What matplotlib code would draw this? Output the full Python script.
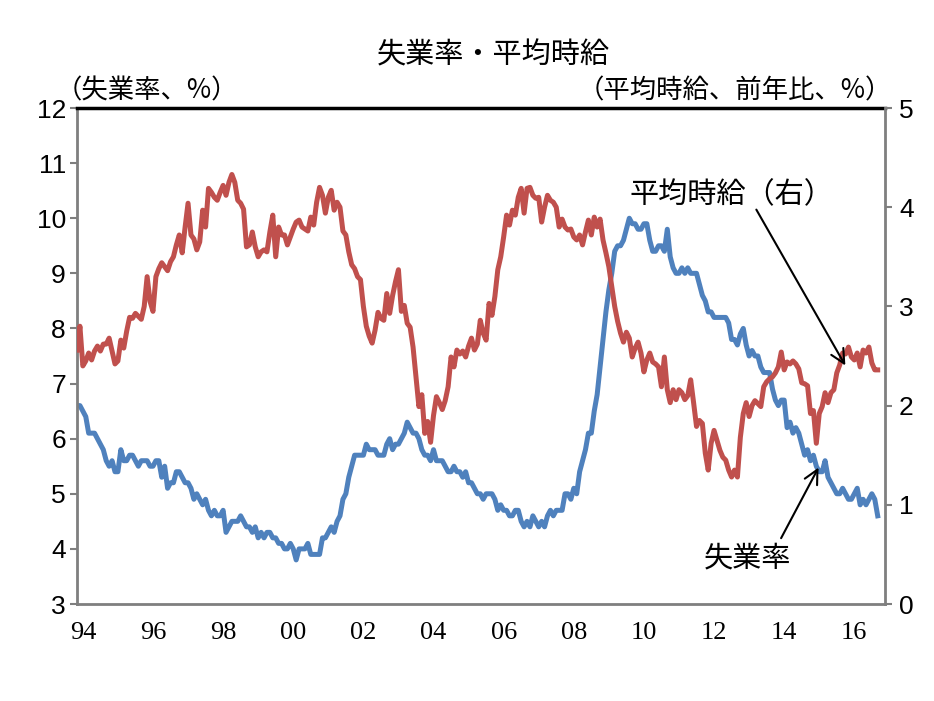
import numpy as np
import matplotlib
matplotlib.use('Agg')
import matplotlib.pyplot as plt

plt.rcParams['font.family'] = ['Noto Sans CJK JP', 'DejaVu Sans']

# monthly data, Jan 1994 - Nov 2016
unemp = [
    6.6, 6.6, 6.5, 6.4, 6.1, 6.1, 6.1, 6.0, 5.9, 5.8, 5.6, 5.5,
    5.6, 5.4, 5.4, 5.8, 5.6, 5.6, 5.7, 5.7, 5.6, 5.5, 5.6, 5.6,
    5.6, 5.5, 5.5, 5.6, 5.6, 5.3, 5.5, 5.1, 5.2, 5.2, 5.4, 5.4,
    5.3, 5.2, 5.2, 5.1, 4.9, 5.0, 4.9, 4.8, 4.9, 4.7, 4.6, 4.7,
    4.6, 4.6, 4.7, 4.3, 4.4, 4.5, 4.5, 4.5, 4.6, 4.5, 4.4, 4.4,
    4.3, 4.4, 4.2, 4.3, 4.2, 4.3, 4.3, 4.2, 4.2, 4.1, 4.1, 4.0,
    4.0, 4.1, 4.0, 3.8, 4.0, 4.0, 4.0, 4.1, 3.9, 3.9, 3.9, 3.9,
    4.2, 4.2, 4.3, 4.4, 4.3, 4.5, 4.6, 4.9, 5.0, 5.3, 5.5, 5.7,
    5.7, 5.7, 5.7, 5.9, 5.8, 5.8, 5.8, 5.7, 5.7, 5.7, 5.9, 6.0,
    5.8, 5.9, 5.9, 6.0, 6.1, 6.3, 6.2, 6.1, 6.1, 6.0, 5.8, 5.7,
    5.7, 5.6, 5.8, 5.6, 5.6, 5.6, 5.5, 5.4, 5.4, 5.5, 5.4, 5.4,
    5.3, 5.4, 5.2, 5.2, 5.1, 5.0, 5.0, 4.9, 5.0, 5.0, 5.0, 4.9,
    4.7, 4.8, 4.7, 4.7, 4.6, 4.6, 4.7, 4.7, 4.5, 4.4, 4.5, 4.4,
    4.6, 4.5, 4.4, 4.5, 4.4, 4.6, 4.7, 4.6, 4.7, 4.7, 4.7, 5.0,
    5.0, 4.9, 5.1, 5.0, 5.4, 5.6, 5.8, 6.1, 6.1, 6.5, 6.8, 7.3,
    7.8, 8.3, 8.7, 9.0, 9.4, 9.5, 9.5, 9.6, 9.8, 10.0, 9.9, 9.9,
    9.8, 9.8, 9.9, 9.9, 9.6, 9.4, 9.4, 9.5, 9.5, 9.4, 9.8, 9.3,
    9.1, 9.0, 9.0, 9.1, 9.0, 9.1, 9.0, 9.0, 9.0, 8.8, 8.6, 8.5,
    8.3, 8.3, 8.2, 8.2, 8.2, 8.2, 8.2, 8.1, 7.8, 7.8, 7.7, 7.9,
    8.0, 7.7, 7.5, 7.6, 7.5, 7.5, 7.3, 7.2, 7.2, 7.2, 6.9, 6.7,
    6.6, 6.7, 6.7, 6.2, 6.3, 6.1, 6.2, 6.1, 5.9, 5.7, 5.8, 5.6,
    5.7, 5.5, 5.4, 5.4, 5.6, 5.3, 5.2, 5.1, 5.0, 5.0, 5.1, 5.0,
    4.9, 4.9, 5.0, 5.1, 4.8, 4.9, 4.8, 4.9, 5.0, 4.9, 4.6,
]

wage = [
    2.56, 2.80, 2.40, 2.45, 2.53, 2.46, 2.55, 2.60, 2.55, 2.62, 2.62, 2.68,
    2.55, 2.42, 2.45, 2.66, 2.58, 2.75, 2.89, 2.88, 2.93, 2.90, 2.87, 3.00,
    3.30, 3.05, 2.95, 3.30, 3.38, 3.44, 3.40, 3.36, 3.45, 3.50, 3.62, 3.72,
    3.54, 3.80, 4.04, 3.72, 3.68, 3.57, 3.65, 3.97, 3.80, 4.19, 4.15, 4.10,
    4.07, 4.15, 4.22, 4.12, 4.25, 4.33, 4.25, 4.07, 4.04, 3.98, 3.60, 3.62,
    3.75, 3.60, 3.50, 3.55, 3.57, 3.55, 3.75, 3.92, 3.50, 3.80, 3.72, 3.72,
    3.62, 3.70, 3.78, 3.85, 3.87, 3.80, 3.78, 3.76, 3.90, 3.82, 4.05, 4.20,
    4.12, 3.94, 4.10, 4.17, 3.97, 4.05, 4.00, 3.76, 3.72, 3.55, 3.42, 3.38,
    3.30, 3.27, 3.00, 2.80, 2.70, 2.63, 2.76, 2.94, 2.88, 2.86, 3.13, 2.93,
    3.11, 3.25, 3.37, 2.95, 3.01, 2.83, 2.79, 2.59, 2.29, 1.99, 2.11, 1.72,
    1.84, 1.63, 1.90, 2.09, 2.03, 1.96, 2.05, 2.19, 2.49, 2.39, 2.56, 2.52,
    2.55, 2.49, 2.60, 2.68, 2.56, 2.62, 2.86, 2.73, 2.66, 3.03, 2.91, 3.10,
    3.37, 3.50, 3.70, 3.92, 3.82, 3.97, 3.92, 4.10, 4.19, 3.94, 4.19, 4.20,
    4.12, 4.09, 4.10, 3.85, 4.00, 4.12, 4.07, 4.05, 4.00, 3.80, 3.88, 3.80,
    3.77, 3.78, 3.70, 3.67, 3.72, 3.62, 3.75, 3.87, 3.72, 3.90, 3.80, 3.88,
    3.67, 3.54, 3.40, 3.20, 3.00, 2.85, 2.73, 2.64, 2.74, 2.68, 2.49, 2.58,
    2.64, 2.53, 2.34, 2.46, 2.53, 2.44, 2.42, 2.39, 2.19, 2.49, 2.16, 2.03,
    2.16, 2.06, 2.16, 2.13, 2.06, 2.10, 2.26, 2.03, 1.79, 1.85, 1.82, 1.52,
    1.35, 1.62, 1.75, 1.65, 1.55, 1.48, 1.45, 1.35, 1.28, 1.35, 1.28, 1.68,
    1.92, 2.03, 1.89, 2.00, 2.05, 2.02, 1.99, 2.19, 2.24, 2.27, 2.29, 2.33,
    2.39, 2.54, 2.36, 2.44, 2.42, 2.45, 2.42, 2.37, 2.23, 2.22, 2.20, 1.92,
    1.95, 1.62, 1.92, 1.99, 2.13, 2.03, 2.13, 2.16, 2.33, 2.41, 2.53, 2.52,
    2.59, 2.49, 2.46, 2.53, 2.39, 2.56, 2.53, 2.59, 2.43, 2.36, 2.36,
]

years = [1994, 1996, 1998, 2000, 2002, 2004, 2006, 2008, 2010, 2012, 2014, 2016]
year_labels = ['94', '96', '98', '00', '02', '04', '06', '08', '10', '12', '14', '16']

months = np.arange(len(unemp))
tick_pos = [(y - 1994) * 12 + 2 for y in years]

fig = plt.figure(figsize=(9.34, 7.01), dpi=100)
ax = fig.add_axes([77 / 934, 1 - 604 / 701, (885 - 77) / 934, (604 - 108) / 701])
ax2 = ax.twinx()

ax.plot(months, unemp, color='#4F81BD', lw=3.6, solid_joinstyle='round')
ax2.plot(months, wage, color='#C0504D', lw=3.6, solid_joinstyle='round')

ax.set_xlim(0, 276.5)
ax.set_ylim(3, 12)
ax2.set_ylim(0, 5)
ax.set_yticks(range(3, 13))
ax2.set_yticks(range(0, 6))
ax.set_xticks(tick_pos)
ax.set_xticklabels(year_labels)

for lab in ax.get_yticklabels() + ax2.get_yticklabels():
    lab.set_family(['Liberation Sans', 'DejaVu Sans'])
    lab.set_fontsize(19)
for lab in ax.get_xticklabels():
    lab.set_family(['Liberation Serif', 'DejaVu Serif'])
    lab.set_fontsize(19)

ax.tick_params(axis='x', length=0, pad=13)
ax.tick_params(axis='y', direction='out', length=5, width=1.5, color='#7f7f7f', pad=3)
ax2.tick_params(axis='y', direction='out', length=5, width=1.5, color='#7f7f7f', pad=5)

for s in ['left', 'bottom']:
    ax.spines[s].set_color('#7f7f7f')
    ax.spines[s].set_linewidth(2)
ax.spines['top'].set_color('black')
ax.spines['top'].set_linewidth(2.5)
ax.spines['right'].set_visible(False)
for s in ['left', 'bottom', 'top']:
    ax2.spines[s].set_visible(False)
ax2.spines['right'].set_color('#7f7f7f')
ax2.spines['right'].set_linewidth(2)

fig.text(493 / 934, 1 - 55 / 701, '失業率・平均時給', ha='center', va='center', fontsize=21)
fig.text(56 / 934, 1 - 91 / 701, '（失業率、%）', ha='left', va='center', fontsize=19)
fig.text(892 / 934, 1 - 91 / 701, '（平均時給、前年比、%）', ha='right', va='center', fontsize=19)

# annotations
ax2.text(189, 4.12, '平均時給（右）', ha='left', va='center', fontsize=21)
ax2.annotate('', xy=(263.4, 2.38), xytext=(232, 4.0),
             arrowprops=dict(arrowstyle='->', color='black', lw=1.5, mutation_scale=25))
ax.text(229.6, 3.83, '失業率', ha='center', va='center', fontsize=21)
ax.annotate('', xy=(254.2, 5.52), xytext=(240.5, 4.15),
            arrowprops=dict(arrowstyle='->', color='black', lw=1.5, mutation_scale=25))

fig.savefig('out.png', dpi=100)
